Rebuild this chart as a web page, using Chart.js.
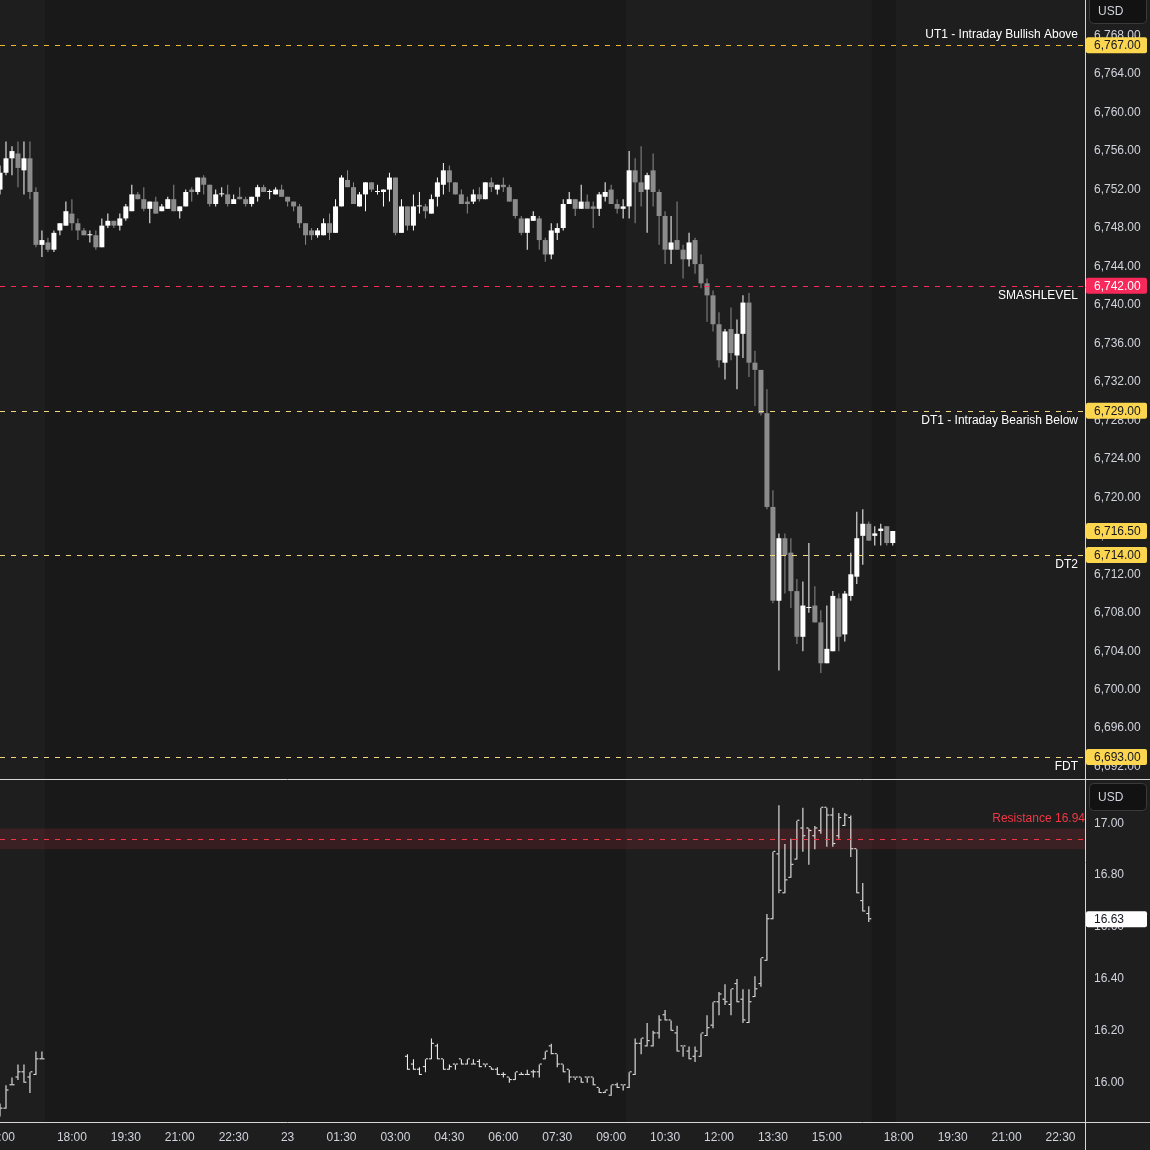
<!DOCTYPE html>
<html>
<head>
<meta charset="utf-8">
<script src="https://cdn.jsdelivr.net/npm/chart.js@4.4.1/dist/chart.umd.min.js"></script>
<style>
  html, body { margin: 0; padding: 0; background: #1e1e1e; }
  canvas { display: block; }
</style>
</head>
<body>
<canvas id="chart" width="1150" height="1150"></canvas>
<script>
// ES 10 minute candles, index 0 = 15:00
const esOpen = [6752,6753.75,6755.25,6755.75,6754,6755.25,6751.75,6746.25,6746.5,6745.75,6747.75,6748.25,6749.5,6748.5,6747.75,6747.25,6747.25,6746,6748.25,6748.75,
  6748.25,6749,6749.75,6751.5,6751,6750,6750.75,6749.75,6750,6751,6749.75,6750.25,6752,6751.75,6753.25,6752.5,6750.5,6751.5,6751.5,6750.5,
  6751.25,6751,6750.5,6751.25,6752.25,6751.75,6751.5,6752,6751.25,6750.75,6750.25,6748.5,6747.75,6747.25,6747.25,6748.5,6747.5,6750.25,6753,6752.25,
  6750.25,6751.5,6752.75,6751.75,6751.75,6752,6753.25,6747.5,6750.25,6748.25,6750.25,6750.25,6749.5,6751.25,6752.5,6754,6752.75,6751.5,6750.75,6750.75,
  6751.5,6751,6752.75,6752,6752.5,6752.25,6751,6749,6747.5,6748.75,6749,6746.75,6745.25,6747.5,6748,6750.5,6751,6750,6750.75,6750.25,
  6750,6751.25,6752,6750.5,6750,6750.25,6754,6752.75,6752,6754,6751.75,6749.25,6745.75,6746.75,6745.75,6744.75,6746.75,6744.25,6742.25,6741,
  6738,6734,6737.5,6734.75,6737,6740.25,6734,6733.25,6728.75,6719,6709.25,6715.75,6714.25,6710.25,6705.5,6708.5,6708.75,6707,6702.75,6704,
  6709.5,6705.75,6709.75,6711.75,6716,6717.25,6716,6716.5,6717,6715.25];
const esHigh = [6754.5,6757,6756.5,6757,6757,6757,6752.25,6747.75,6747,6747.75,6748.5,6750.75,6751,6749,6748,6747.75,6747.75,6749,6749.5,6748.75,
  6749.5,6750.5,6752.5,6751.75,6752.25,6750.75,6751.25,6750.5,6751.25,6752.5,6750.25,6752,6752.25,6753.25,6753.5,6752.5,6752,6752.25,6752.5,6751.5,
  6752.25,6751.25,6751.25,6752.5,6752.5,6752,6752.25,6752.5,6751.25,6750.75,6750.5,6748.5,6748,6748,6749,6749.5,6751,6753.5,6754,6752.75,
  6751.75,6752.75,6752.75,6752.5,6752,6753.75,6753.25,6751,6750.25,6751.5,6751.75,6750.5,6751.5,6753.25,6754.75,6754.5,6752.75,6752,6751.25,6752,
  6752.25,6752.75,6753.25,6752.5,6753.25,6752.5,6751,6749.25,6749,6749.75,6749.25,6747,6748.5,6748.5,6751,6751.75,6751,6752.5,6751.5,6750.75,
  6751.75,6752.75,6752.5,6751,6751,6756,6755.25,6756.5,6753.75,6755.75,6752,6749.75,6749.25,6750.75,6746.25,6747.5,6747,6745.25,6742.75,6741.5,
  6739.25,6737.5,6739.75,6738.5,6741,6741.25,6735.25,6733.25,6731.25,6720.75,6716.25,6716.25,6715.75,6711.5,6711.25,6715.25,6710.75,6708.25,6708.75,6710.25,
  6710,6710.25,6714.25,6718.5,6718.75,6717.5,6717,6717.25,6717,6716.5];
const esLow = [6751.5,6753.5,6753.5,6752.25,6751.5,6751,6746,6745,6745.5,6745.5,6747.25,6748.25,6747.75,6746.75,6747.25,6746.5,6745.75,6746,6748,6748,
  6747.75,6748.75,6749.75,6751,6749.75,6748.5,6749.5,6749.75,6750,6749.75,6749,6750.25,6750.75,6751.5,6751.5,6750.25,6750.25,6751.25,6750.25,6750.5,
  6751,6750.25,6750.25,6750.75,6751.75,6751,6751.5,6751.25,6750.25,6749.75,6748,6746.25,6746.75,6747,6747.25,6746.75,6747.5,6750.25,6752.25,6750.5,
  6750.25,6749.75,6751.75,6751.5,6750.25,6750.75,6747.25,6747.5,6747.75,6747.75,6749.5,6749,6749.5,6750.25,6751.5,6751.75,6751.5,6750.5,6749.5,6750.5,
  6750.75,6751,6751.75,6751.5,6751.75,6750.75,6749,6747.25,6745.75,6748.75,6745.75,6744.5,6744.75,6746.75,6747.75,6750.5,6749.25,6750,6750,6748,
  6749.25,6750.75,6750.5,6749.5,6749,6749,6748.5,6750.25,6747.5,6750.25,6746.25,6744.25,6744.25,6745.75,6742.75,6744,6743.25,6741.75,6738.25,6737.25,
  6733.5,6732.25,6734.25,6731.25,6734.5,6732.5,6729.5,6728.5,6718.75,6709,6702,6710,6708.5,6704.75,6704,6708,6707,6701.75,6702.75,6704,
  6704,6705,6709.25,6711,6713,6715.5,6715,6715,6715,6715];
const esClose = [6753.75,6755.25,6756,6754.25,6755.25,6751.75,6746.25,6746.75,6745.75,6747.5,6748.5,6749.75,6748.5,6747.75,6747.25,6747.25,6746,6748.25,6748.75,6748.25,
  6749,6750.25,6751.5,6751,6750,6750.75,6749.5,6750.25,6751,6749.75,6750.25,6751.75,6751.75,6753.25,6752.5,6750.5,6751.5,6751.5,6750.5,6751,
  6751,6750.5,6751.25,6752.25,6751.75,6751.75,6752,6751.25,6750.75,6750.25,6748.5,6747.25,6747.25,6747.75,6748.5,6747.5,6750.25,6753.25,6752.25,6750.5,
  6751.5,6752.75,6752,6751.75,6752,6753.25,6747.5,6750.25,6748.25,6750.25,6750.25,6749.75,6751,6752.75,6754,6752.75,6751.5,6750.5,6750.5,6751.5,
  6751,6752.75,6752.25,6752.5,6752.25,6750.75,6749.25,6747.5,6749,6749.25,6746.75,6745.25,6747.75,6748,6750.5,6751,6750,6750.75,6750,6750,
  6751.5,6751.75,6750.5,6750,6750.25,6754,6752.75,6751.75,6753.5,6751.75,6749.25,6745.75,6746.5,6745.75,6744.75,6746.5,6744.25,6742.25,6741,6738,
  6734.25,6737.25,6735,6737,6740.25,6734,6733.25,6728.75,6719,6709.25,6715.75,6714,6710.25,6705.5,6708.75,6708.5,6707,6702.75,6704.25,6709.75,
  6705.5,6710,6712,6715.75,6717.25,6715.5,6716.25,6716.75,6715.25,6716.5];

// VIX 10 minute bars (null = no trading), same index as ES
const vixOpen = [15.88,15.90,15.99,16.02,16.04,16.02,16.03,16.09,
  null,null,null,null,null,null,null,null,null,null,null,null,null,null,null,null,null,null,null,null,
  null,null,null,null,null,null,null,null,null,null,null,null,null,null,null,null,null,null,null,null,
  null,null,null,null,null,null,null,null,null,null,null,null,null,null,null,null,null,null,null,null,
  16.10,16.07,16.05,16.06,16.09,16.14,16.09,16.05,16.07,16.09,16.07,16.07,16.08,16.07,16.06,16.05,16.03,16.02,16.01,16.03,
  16.03,16.04,16.04,16.09,16.14,16.11,16.07,16.05,16.02,16.02,16.02,16.02,15.98,15.96,15.95,15.99,15.99,15.98,16.03,16.15,
  16.14,16.14,16.19,16.26,16.24,16.19,16.14,16.12,16.10,16.10,16.18,16.22,16.31,16.32,16.30,16.38,16.32,16.23,16.33,16.38,
  16.47,16.63,16.88,16.73,16.79,16.86,16.98,16.98,16.95,16.97,17.06,17.03,16.95,16.99,17.02,16.90,16.70,16.65,
  null,null,null,null];
const vixHigh = [15.92,15.99,16.02,16.07,16.07,16.04,16.12,16.12,
  null,null,null,null,null,null,null,null,null,null,null,null,null,null,null,null,null,null,null,null,
  null,null,null,null,null,null,null,null,null,null,null,null,null,null,null,null,null,null,null,null,
  null,null,null,null,null,null,null,null,null,null,null,null,null,null,null,null,null,null,null,null,
  16.11,16.09,16.06,16.09,16.17,16.15,16.09,16.07,16.07,16.09,16.09,16.09,16.09,16.07,16.06,16.06,16.04,16.02,16.04,16.04,
  16.05,16.05,16.07,16.12,16.15,16.11,16.07,16.05,16.02,16.02,16.02,16.02,15.98,15.97,15.99,16.00,15.99,16.04,16.17,16.17,
  16.23,16.20,16.26,16.28,16.24,16.22,16.14,16.14,16.14,16.19,16.26,16.31,16.35,16.38,16.36,16.40,16.36,16.36,16.41,16.48,
  16.65,16.89,17.07,16.92,16.94,17.01,17.06,16.98,16.99,17.06,17.06,17.06,17.04,17.04,17.03,16.90,16.77,16.68,
  null,null,null,null];
const vixLow = [15.87,15.90,15.99,16.01,16.00,15.96,16.03,16.09,
  null,null,null,null,null,null,null,null,null,null,null,null,null,null,null,null,null,null,null,null,
  null,null,null,null,null,null,null,null,null,null,null,null,null,null,null,null,null,null,null,null,
  null,null,null,null,null,null,null,null,null,null,null,null,null,null,null,null,null,null,null,null,
  16.05,16.05,16.03,16.04,16.09,16.09,16.05,16.05,16.05,16.07,16.07,16.07,16.06,16.06,16.05,16.03,16.02,16.00,16.01,16.03,
  16.03,16.02,16.02,16.09,16.11,16.06,16.04,16.00,16.01,16.00,16.00,15.99,15.96,15.96,15.95,15.98,15.97,15.98,16.03,16.11,
  16.14,16.14,16.17,16.24,16.20,16.12,16.10,16.09,16.08,16.10,16.18,16.21,16.26,16.30,16.26,16.31,16.23,16.23,16.33,16.37,
  16.47,16.63,16.73,16.73,16.79,16.86,16.89,16.84,16.90,16.96,16.91,16.91,16.94,16.99,16.87,16.73,16.66,16.62,
  null,null,null,null];
const vixClose = [15.90,15.97,15.99,16.04,16.00,16.04,16.09,16.09,
  null,null,null,null,null,null,null,null,null,null,null,null,null,null,null,null,null,null,null,null,
  null,null,null,null,null,null,null,null,null,null,null,null,null,null,null,null,null,null,null,null,
  null,null,null,null,null,null,null,null,null,null,null,null,null,null,null,null,null,null,null,null,
  16.05,16.05,16.03,16.09,16.15,16.09,16.05,16.06,16.07,16.07,16.09,16.07,16.06,16.07,16.05,16.03,16.03,16.01,16.04,16.03,
  16.03,16.04,16.07,16.12,16.11,16.07,16.04,16.02,16.02,16.00,16.02,15.99,15.96,15.97,15.99,15.98,15.99,16.04,16.15,16.17,
  16.16,16.19,16.24,16.24,16.20,16.12,16.14,16.09,16.12,16.19,16.21,16.31,16.34,16.31,16.36,16.31,16.24,16.31,16.36,16.48,
  16.63,16.89,16.74,16.78,16.84,17.01,16.95,16.97,16.98,17.06,17.03,16.92,17.02,17.03,16.90,16.73,16.66,16.63,
  null,null,null,null];

// time axis
const timeTickIdx = [0, 12, 21, 30, 39, 48, 57, 66, 75, 84, 93, 102, 111, 120, 129, 138, 150, 159, 168, 177];
const timeTickText = ['15:00','18:00','19:30','21:00','22:30','23','01:30','03:00','04:30','06:00','07:30','09:00','10:30','12:00','13:30','15:00','18:00','19:30','21:00','22:30'];
const extBands = [[7.5, 104.5], [145.5, 149.5]];

// price axis ticks
const esTicks = [6692,6696,6700,6704,6708,6712,6716,6720,6724,6728,6732,6736,6740,6744,6748,6752,6756,6760,6764,6768];
const vixTicks = [16.0, 16.2, 16.4, 16.6, 16.8, 17.0];

// horizontal levels on ES
const levelValues = [6767, 6742, 6729, 6714, 6693];
const levelNames = ['UT1 - Intraday Bullish Above', 'SMASHLEVEL', 'DT1 - Intraday Bearish Below', 'DT2', 'FDT'];
const levelColors = ['#f2b82c', '#ff2a55', '#f1d77a', '#f1d77a', '#f1d77a'];
const levelLabelAbove = [true, false, false, false, false];

// axis price marks
const markValues = [6767, 6742, 6729, 6716.5, 6714, 6693];
const markColors = ['#fdd64f', '#f7285a', '#fdd64f', '#fdd64f', '#fdd64f', '#fdd64f'];
const markText = ['#131722', '#ffffff', '#131722', '#131722', '#131722', '#131722'];
const vixLast = 16.63;
const resistance = 16.94;
const resistanceBand = [16.90, 16.98];

const UP = '#ffffff', DOWN = '#8c8c8c';
const FONT = 'Liberation Sans';
Chart.defaults.font.family = FONT;
Chart.defaults.font.size = 12;

const idx = esOpen.map((_, i) => i);
const esCol = idx.map(i => esClose[i] >= esOpen[i] ? UP : DOWN);
const vixIdx = idx.filter(i => vixOpen[i] != null);

const fmtEs = v => v.toLocaleString('en-US', {minimumFractionDigits: 2, maximumFractionDigits: 2});

const barBase = { type: 'bar', stack: 's', borderWidth: 0, inflateAmount: 0, minBarLength: 1 };

const decor = {
  id: 'decor',
  beforeDraw(chart) {
    const {ctx, chartArea: a, scales} = chart;
    ctx.save();
    ctx.fillStyle = '#1e1e1e';
    ctx.fillRect(0, 0, chart.width, chart.height);
    ctx.fillStyle = '#191919';
    extBands.forEach(([s, e]) => {
      const x1 = scales.x.getPixelForValue(s), x2 = scales.x.getPixelForValue(e);
      ctx.fillRect(x1, a.top, x2 - x1, a.bottom - a.top);
    });
    const yb = scales.yBot;
    const b1 = yb.getPixelForValue(resistanceBand[1]), b2 = yb.getPixelForValue(resistanceBand[0]);
    ctx.fillStyle = 'rgba(242,54,69,0.14)';
    ctx.fillRect(a.left, b1, a.right - a.left, b2 - b1);
    ctx.restore();
  },
  afterDatasetsDraw(chart) {
    const {ctx, chartArea: a, scales} = chart;
    ctx.save();
    ctx.lineWidth = 1;
    ctx.setLineDash([5, 6]);
    levelValues.forEach((v, k) => {
      const y = Math.round(scales.yTop.getPixelForValue(v)) + 0.5;
      ctx.strokeStyle = levelColors[k];
      ctx.beginPath(); ctx.moveTo(a.left, y); ctx.lineTo(a.right, y); ctx.stroke();
    });
    const ry = Math.round(scales.yBot.getPixelForValue(resistance)) + 0.5;
    ctx.strokeStyle = '#f23645';
    ctx.beginPath(); ctx.moveTo(a.left, ry); ctx.lineTo(a.right, ry); ctx.stroke();
    ctx.setLineDash([]);

    ctx.font = '12px ' + FONT;
    ctx.textAlign = 'right';
    ctx.textBaseline = 'middle';
    ctx.fillStyle = '#ffffff';
    levelValues.forEach((v, k) => {
      const y = scales.yTop.getPixelForValue(v);
      ctx.fillText(levelNames[k], 1078, levelLabelAbove[k] ? y - 11 : y + 10);
    });
    ctx.fillStyle = '#f23645';
    ctx.fillText('Resistance ' + resistance.toFixed(2), 1085, ry - 21);
    ctx.restore();
  },
  afterDraw(chart) {
    const {ctx, scales} = chart;
    const ax = scales.yTop.left;
    ctx.save();
    ctx.strokeStyle = '#d6d6d6';
    ctx.lineWidth = 1;
    const sep = Math.round(scales.yTop.bottom) + 0.5;
    const bot = Math.round(scales.x.top) + 0.5;
    ctx.beginPath();
    ctx.moveTo(Math.round(ax) + 0.5, 0); ctx.lineTo(Math.round(ax) + 0.5, chart.height);
    ctx.moveTo(0, sep); ctx.lineTo(chart.width, sep);
    ctx.moveTo(0, bot); ctx.lineTo(chart.width, bot);
    ctx.stroke();

    const box = (y, bg, fg, text) => {
      ctx.fillStyle = bg;
      ctx.beginPath();
      if (ctx.roundRect) ctx.roundRect(ax + 1, y - 8, 61, 16, 2); else ctx.rect(ax + 1, y - 8, 61, 16);
      ctx.fill();
      ctx.fillStyle = fg;
      ctx.textAlign = 'left';
      ctx.textBaseline = 'middle';
      ctx.font = '12px ' + FONT;
      ctx.fillText(text, ax + 9, y + 0.5);
    };
    markValues.forEach((v, k) => box(scales.yTop.getPixelForValue(v), markColors[k], markText[k], fmtEs(v)));
    box(scales.yBot.getPixelForValue(vixLast), '#ffffff', '#131722', vixLast.toFixed(2));

    const usd = (top, h, ty) => {
      ctx.fillStyle = '#121212';
      ctx.strokeStyle = '#3a3a3a';
      ctx.beginPath();
      if (ctx.roundRect) ctx.roundRect(ax + 4.5, top + 0.5, 57, h, 4); else ctx.rect(ax + 4.5, top + 0.5, 57, h);
      ctx.fill(); ctx.stroke();
      ctx.fillStyle = '#d1d4dc';
      ctx.font = '12px ' + FONT;
      ctx.textAlign = 'left';
      ctx.textBaseline = 'middle';
      ctx.fillText('USD', ax + 13, ty);
    };
    usd(-4, 27, 12);
    usd(sep + 3.5, 27, sep + 18);
    ctx.restore();
  }
};

new Chart(document.getElementById('chart'), {
  data: {
    datasets: [
      { ...barBase, label: 'ES wick', yAxisID: 'yTop', barThickness: 1, backgroundColor: esCol,
        data: idx.map(i => ({ x: i, y: [esLow[i], esHigh[i]] })) },
      { ...barBase, label: 'ES body', yAxisID: 'yTop', barThickness: 5, backgroundColor: esCol,
        data: idx.map(i => ({ x: i, y: [esOpen[i], esClose[i]] })) },
      { ...barBase, label: 'VIX range', yAxisID: 'yBot', barThickness: 1, backgroundColor: '#ffffff',
        data: vixIdx.map(i => ({ x: i, y: [vixLow[i], vixHigh[i]] })) },
      { ...barBase, label: 'VIX open', yAxisID: 'yBot', barThickness: 2, backgroundColor: '#ffffff',
        data: vixIdx.map(i => ({ x: i - 0.25, y: [vixOpen[i], vixOpen[i]] })) },
      { ...barBase, label: 'VIX close', yAxisID: 'yBot', barThickness: 2, backgroundColor: '#ffffff',
        data: vixIdx.map(i => ({ x: i + 0.25, y: [vixClose[i], vixClose[i]] })) }
    ]
  },
  options: {
    responsive: false,
    animation: false,
    events: [],
    layout: { padding: { left: -1.5, right: 0, top: 0, bottom: 0 } },
    plugins: { legend: { display: false }, tooltip: { enabled: false } },
    scales: {
      x: {
        type: 'linear', min: 0, max: 181.0833, offset: false,
        grid: { display: false, drawTicks: false, offset: false }, border: { display: false },
        ticks: {
          autoSkip: false, maxRotation: 0, color: '#d1d4dc', padding: 8,
          callback: v => { const k = timeTickIdx.indexOf(v); return k >= 0 ? timeTickText[k] : ''; }
        },
        afterBuildTicks: s => { s.ticks = timeTickIdx.map(v => ({ value: v })); },
        afterFit: s => { s.height = 28; s.paddingLeft = 0; s.paddingRight = 0; }
      },
      yTop: {
        type: 'linear', position: 'right', stack: 'panes', stackWeight: 779, stacked: false, offset: false,
        min: 6690.716, max: 6771.71,
        grid: { display: false, drawTicks: false }, border: { display: false },
        ticks: { autoSkip: false, color: '#d1d4dc', padding: 9, callback: v => fmtEs(v) },
        afterBuildTicks: s => { s.ticks = esTicks.map(v => ({ value: v })); },
        afterFit: s => { s.width = 65; s.paddingTop = 0; s.paddingBottom = 0; }
      },
      yBot: {
        type: 'linear', position: 'right', stack: 'panes', stackWeight: 343, stacked: false, offset: false,
        min: 15.8485, max: 17.1708,
        grid: { display: false, drawTicks: false }, border: { display: false },
        ticks: { autoSkip: false, color: '#d1d4dc', padding: 9, callback: v => v.toFixed(2) },
        afterBuildTicks: s => { s.ticks = vixTicks.map(v => ({ value: v })); },
        afterFit: s => { s.width = 65; s.paddingTop = 0; s.paddingBottom = 0; }
      }
    }
  },
  plugins: [decor]
});
</script>
</body>
</html>
